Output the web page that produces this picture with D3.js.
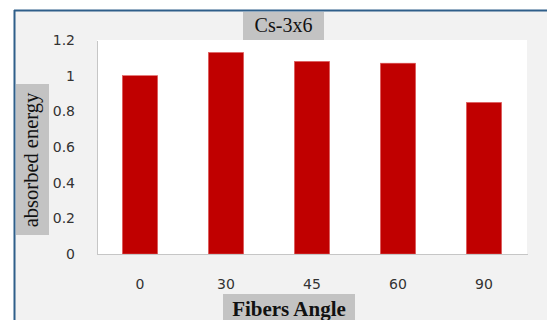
<!DOCTYPE html>
<html>
<head>
<meta charset="utf-8">
<script src="https://cdn.jsdelivr.net/npm/d3@7"></script>
<style>
  html, body { margin: 0; padding: 0; background: #fff; }
  svg { display: block; }
</style>
</head>
<body>
<svg id="chart" width="547" height="320"></svg>
<script>
var angles = ['0', '30', '45', '60', '90'];
var energy = [1.0, 1.13, 1.08, 1.07, 0.85];
var yTicks = [0, 0.2, 0.4, 0.6, 0.8, 1, 1.2];
var title = 'Cs-3x6';
var yLabel = 'absorbed energy';
var xLabel = 'Fibers Angle';

!(function(d3) {
    var dim = { width: 547, height: 320 };
    var plot = { left: 97, right: 527, top: 40, bottom: 254 };
    var serif = '"Liberation Serif", "Times New Roman", serif';
    var sans = '"DejaVu Sans", Verdana, sans-serif';

    var svg = d3.select('#chart');

    // frame: light gray panel with the dark blue edge on top and left
    svg.append('rect')
        .attr('x', 15).attr('y', 11)
        .attr('width', dim.width - 15).attr('height', dim.height - 11)
        .style('fill', '#f2f2f2');
    svg.append('line')
        .attr('x1', 14).attr('x2', dim.width).attr('y1', 10.5).attr('y2', 10.5)
        .style('stroke', '#2f5f8a').style('stroke-width', 2);
    svg.append('line')
        .attr('x1', 14.5).attr('x2', 14.5).attr('y1', 10).attr('y2', dim.height)
        .style('stroke', '#2f5f8a').style('stroke-width', 2);

    var x = d3.scaleBand()
        .domain(angles)
        .range([plot.left, plot.right])
        .paddingInner(0.59)
        .paddingOuter(0.295);
    var y = d3.scaleLinear()
        .domain([0, 1.2])
        .range([plot.bottom, plot.top]);

    svg.append('rect')
        .attr('x', plot.left).attr('y', plot.top)
        .attr('width', plot.right - plot.left).attr('height', plot.bottom - plot.top)
        .style('fill', '#fff');

    svg.append('g').selectAll('rect')
        .data(energy).enter().append('rect')
        .attr('x', function(d, i) { return x(angles[i]); })
        .attr('y', function(d) { return y(d); })
        .attr('width', x.bandwidth())
        .attr('height', function(d) { return y(0) - y(d); })
        .style('fill', '#c00000')
        .style('stroke', '#e06060')
        .style('stroke-width', 0.6);

    var xAxis = d3.axisBottom(x).tickSize(0).tickPadding(25);
    var yAxis = d3.axisLeft(y).tickValues(yTicks).tickSize(0).tickPadding(22)
        .tickFormat(function(d) { return d3.format('')(d); });

    svg.append('g')
        .attr('class', 'axis')
        .attr('transform', 'translate(0,' + plot.bottom + ')')
        .call(xAxis);
    svg.append('g')
        .attr('class', 'axis')
        .attr('transform', 'translate(' + plot.left + ',0)')
        .call(yAxis);

    svg.selectAll('.axis path.domain')
        .style('stroke', '#c6c6c6')
        .style('shape-rendering', 'crispEdges');
    svg.selectAll('.axis text')
        .style('font-family', sans)
        .style('font-size', '14px')
        .style('fill', '#333');

    // title
    svg.append('rect')
        .attr('x', 243).attr('y', 12).attr('width', 81).attr('height', 28)
        .style('fill', '#c3c3c3');
    svg.append('text')
        .attr('x', 283.5).attr('y', 32)
        .attr('text-anchor', 'middle')
        .style('font-family', serif).style('font-size', '20px')
        .style('fill', '#111')
        .text(title);

    // y label
    svg.append('rect')
        .attr('x', 16).attr('y', 84).attr('width', 33).attr('height', 151)
        .style('fill', '#c3c3c3');
    svg.append('text')
        .attr('transform', 'translate(38,160) rotate(-90)')
        .attr('text-anchor', 'middle')
        .style('font-family', serif).style('font-size', '20.5px')
        .style('fill', '#111')
        .text(yLabel);

    // x label
    svg.append('rect')
        .attr('x', 223).attr('y', 294).attr('width', 132).attr('height', 30)
        .style('fill', '#c3c3c3');
    svg.append('text')
        .attr('x', 289).attr('y', 316)
        .attr('text-anchor', 'middle')
        .style('font-family', serif).style('font-size', '21px')
        .style('font-weight', 'bold')
        .style('fill', '#111')
        .text(xLabel);
}(d3));
</script>
</body>
</html>
